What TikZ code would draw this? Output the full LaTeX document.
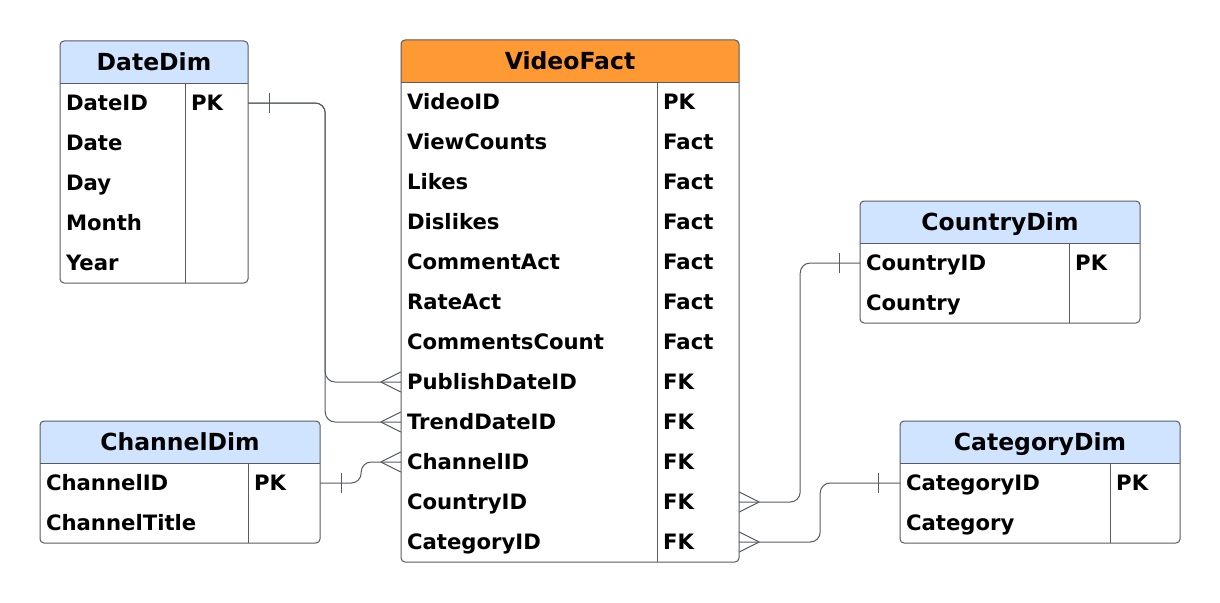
\documentclass[tikz,border=0pt]{standalone}
\usepackage{fontspec}
\setmainfont{DejaVu Sans}
\definecolor{dimblue}{HTML}{D0E3FF}
\definecolor{factorange}{HTML}{FF9933}
\definecolor{linegray}{HTML}{575C64}
\begin{document}
\begin{tikzpicture}[x=1pt, y=-1pt,
    frame/.style = {draw=linegray, line width=1pt},
    head/.style = {font=\fontsize{23.5}{27}\selectfont\bfseries, text height=17pt, text depth=0pt, inner sep=0pt},
    row/.style = {font=\fontsize{21.2}{25}\selectfont\bfseries, text height=15.4pt, text depth=0pt, inner xsep=6pt, inner ysep=0pt, align=left},
    rel/.style = {draw=linegray, line width=1pt, rounded corners=10pt},
    relend/.style = {draw=linegray, line width=1pt}]
    \fill[white] (0,0) rectangle (1220,602);
    \useasboundingbox (0,0) rectangle (1220,602);

    % DateDim
    \path[fill=dimblue] (60,83) -- (60,60) {[rounded corners=4pt] -- (60,41) -- (248,41) -- (248,60)} -- (248,83) -- cycle;
    \node[head] (datedim) at (154,62) {DateDim};
    \draw[frame, rounded corners=4pt] (60,41) rectangle (248,283);
    \draw[frame] (60,83) -- (248,83) (185,83) -- (185,283);
    \foreach \n/\k [count=\i] in {DateID/PK, Date/, Day/, Month/, Year/} {
        \node[row, text width=176pt] (date-\i) at (154,63+40*\i) {\n};
        \node[row, anchor=west] at (185,63+40*\i) {\k};
    }

    % VideoFact
    \path[fill=factorange] (401,82) -- (401,60) {[rounded corners=4pt] -- (401,40) -- (739,40) -- (739,60)} -- (739,82) -- cycle;
    \node[head] (videofact) at (570,61) {VideoFact};
    \draw[frame, rounded corners=4pt] (401,40) rectangle (739,562);
    \draw[frame] (401,82) -- (739,82) (657,82) -- (657,562);
    \foreach \n/\k [count=\i] in {VideoID/PK, ViewCounts/Fact, Likes/Fact, Dislikes/Fact, CommentAct/Fact, RateAct/Fact, CommentsCount/Fact, PublishDateID/FK, TrendDateID/FK, ChannelID/FK, CountryID/FK, CategoryID/FK} {
        \node[row, text width=326pt] (vf-\i) at (570,62+40*\i) {\n};
        \node[row, anchor=west] at (657,62+40*\i) {\k};
    }

    % CountryDim
    \path[fill=dimblue] (860,243) -- (860,220) {[rounded corners=4pt] -- (860,201) -- (1140,201) -- (1140,220)} -- (1140,243) -- cycle;
    \node[head] (countrydim) at (1000,222) {CountryDim};
    \draw[frame, rounded corners=4pt] (860,201) rectangle (1140,323);
    \draw[frame] (860,243) -- (1140,243) (1069,243) -- (1069,323);
    \foreach \n/\k [count=\i] in {CountryID/PK, Country/} {
        \node[row, text width=268pt] (co-\i) at (1000,223+40*\i) {\n};
        \node[row, anchor=west] at (1069,223+40*\i) {\k};
    }

    % ChannelDim
    \path[fill=dimblue] (40,463) -- (40,440) {[rounded corners=4pt] -- (40,421) -- (320,421) -- (320,440)} -- (320,463) -- cycle;
    \node[head] (channeldim) at (180,442) {ChannelDim};
    \draw[frame, rounded corners=4pt] (40,421) rectangle (320,543);
    \draw[frame] (40,463) -- (320,463) (248,463) -- (248,543);
    \foreach \n/\k [count=\i] in {ChannelID/PK, ChannelTitle/} {
        \node[row, text width=268pt] (ch-\i) at (180,443+40*\i) {\n};
        \node[row, anchor=west] at (248,443+40*\i) {\k};
    }

    % CategoryDim
    \path[fill=dimblue] (900,463) -- (900,440) {[rounded corners=4pt] -- (900,421) -- (1180,421) -- (1180,440)} -- (1180,463) -- cycle;
    \node[head] (categorydim) at (1040,442) {CategoryDim};
    \draw[frame, rounded corners=4pt] (900,421) rectangle (1180,543);
    \draw[frame] (900,463) -- (1180,463) (1110,463) -- (1110,543);
    \foreach \n/\k [count=\i] in {CategoryID/PK, Category/} {
        \node[row, text width=268pt] (ca-\i) at (1040,443+40*\i) {\n};
        \node[row, anchor=west] at (1110,443+40*\i) {\k};
    }

    % relations
    \draw[rel] (date-1.east) -- ++(77,0) |- (vf-8.west);
    \draw[rel] (date-1.east) -- ++(77,0) |- (vf-9.west);
    \draw[rel] (ch-1.east) -- ++(41,0) |- (vf-10.west);
    \draw[rel] (vf-11.east) -- ++(61,0) |- (co-1.west);
    \draw[rel] (vf-12.east) -- ++(81,0) |- (ca-1.west);

    % one ends
    \draw[relend] ([xshift=21pt]date-1.east) ++(0,-10) -- ++(0,20);
    \draw[relend] ([xshift=21pt]ch-1.east) ++(0,-10) -- ++(0,20);
    \draw[relend] ([xshift=-20pt]co-1.west) ++(0,-10) -- ++(0,20);
    \draw[relend] ([xshift=-21pt]ca-1.west) ++(0,-10) -- ++(0,20);

    % many ends
    \draw[relend] (vf-8.west) ++(-20,0) -- ++(20,-10) ++(-20,10) -- ++(20,10);
    \draw[relend] (vf-9.west) ++(-20,0) -- ++(20,-10) ++(-20,10) -- ++(20,10);
    \draw[relend] (vf-10.west) ++(-20,0) -- ++(20,-10) ++(-20,10) -- ++(20,10);
    \draw[relend] (vf-11.east) ++(20,0) -- ++(-20,-10) ++(20,10) -- ++(-20,10);
    \draw[relend] (vf-12.east) ++(20,0) -- ++(-20,-10) ++(20,10) -- ++(-20,10);
\end{tikzpicture}
\end{document}
